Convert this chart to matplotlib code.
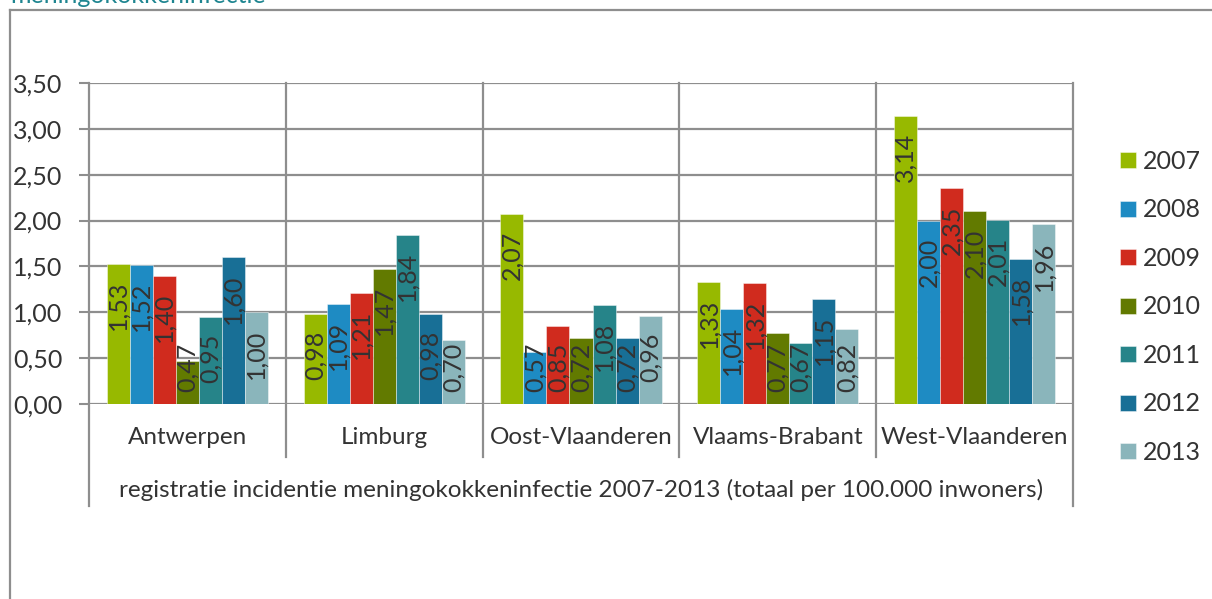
import matplotlib
matplotlib.use("Agg")
import matplotlib.pyplot as plt
from matplotlib.lines import Line2D
import numpy as np

provinces = ["Antwerpen", "Limburg", "Oost-Vlaanderen", "Vlaams-Brabant", "West-Vlaanderen"]
years = ["2007", "2008", "2009", "2010", "2011", "2012", "2013"]
v2007 = [1.53, 0.98, 2.07, 1.33, 3.14]
v2008 = [1.52, 1.09, 0.57, 1.04, 2.00]
v2009 = [1.40, 1.21, 0.85, 1.32, 2.35]
v2010 = [0.47, 1.47, 0.72, 0.77, 2.10]
v2011 = [0.95, 1.84, 1.08, 0.67, 2.01]
v2012 = [1.60, 0.98, 0.72, 1.15, 1.58]
v2013 = [1.00, 0.70, 0.96, 0.82, 1.96]
series = [v2007, v2008, v2009, v2010, v2011, v2012, v2013]
colors = ["#97B900", "#1E8BC3", "#D02B1E", "#627A00", "#268489", "#186F96", "#8AB5BB"]
yticks = [0.0, 0.5, 1.0, 1.5, 2.0, 2.5, 3.0, 3.5]
title = "meningokokkeninfectie"
xlabel = "registratie incidentie meningokokkeninfectie 2007-2013 (totaal per 100.000 inwoners)"

plt.rcParams['font.family'] = ['Lato', 'DejaVu Sans']
TXT = "#333333"
GRID = "#8e8e8e"
FS = 17.5
LFS = 18

W, H = 1212, 599
fig = plt.figure(figsize=(W / 100, H / 100), dpi=100)

x0, x1, ytop, ybot = 89, 1073, 83, 404
ax = fig.add_axes([x0 / W, 1 - ybot / H, (x1 - x0) / W, (ybot - ytop) / H])
ax.set_xlim(0, len(provinces))
ax.set_ylim(0, 3.5)

bw = 0.117
ppu = (ybot - ytop) / 3.5  # pixels per unit
for j, (vals, col, yr) in enumerate(zip(series, colors, years)):
    xs = np.arange(len(provinces)) + 0.5 + (j - 3) * bw
    ax.bar(xs, vals, width=bw, color=col, edgecolor=(1, 1, 1, 0.5), linewidth=0.6,
           label=yr, zorder=3)
    for x, v in zip(xs, vals):
        lab = f"{v:.2f}".replace(".", ",")
        L = 44 / ppu
        top = max(v - 17 / ppu, 17 / ppu + L)
        ax.text(x, top, lab, rotation=90, ha="center", va="top", fontsize=LFS,
                color=TXT, zorder=4)

ax.set_yticks(yticks)
ax.set_yticklabels([f"{t:.2f}".replace(".", ",") for t in yticks], fontsize=LFS, color=TXT)
ax.set_xticks([])
ax.tick_params(axis="y", length=7, width=1.5, color=GRID, pad=12, direction="out")
for t in yticks:
    ax.axhline(t, color=GRID, lw=1.6, zorder=1)
for s in ["left", "right", "top", "bottom"]:
    ax.spines[s].set_visible(False)

# category separators
sep_y = (ybot - 457) / (ybot - ytop)
outer_y = (ybot - 506) / (ybot - ytop)
for i in range(len(provinces) + 1):
    ylow = outer_y if i in (0, len(provinces)) else sep_y
    ax.plot([i, i], [ylow, 1], transform=ax.get_xaxis_transform(), color=GRID, lw=1.6,
            clip_on=False, zorder=2)
for i, p in enumerate(provinces):
    ax.text(i + 0.5, (ybot - 438) / (ybot - ytop), p, transform=ax.get_xaxis_transform(),
            ha="center", va="center", fontsize=FS, color=TXT)
ax.text(len(provinces) / 2, (ybot - 490) / (ybot - ytop), xlabel,
        transform=ax.get_xaxis_transform(), ha="center", va="center", fontsize=FS, color=TXT)

# legend
leg = ax.legend(loc="center left", bbox_to_anchor=(1120 / W, 1 - 307 / H),
                bbox_transform=fig.transFigure, frameon=False, fontsize=LFS,
                handlelength=0.62, handleheight=0.62, handletextpad=0.3, labelspacing=1.02,
                borderpad=0, borderaxespad=0)
for t in leg.get_texts():
    t.set_color(TXT)

# outer frame
fig.add_artist(Line2D([10 / W, 10 / W], [0, 1 - 10 / H], color=GRID, lw=1.6))
fig.add_artist(Line2D([10 / W, 1], [1 - 10 / H, 1 - 10 / H], color=GRID, lw=1.6))

fig.text(10 / W, 1 - 3 / H, title, color="#1E8590", fontsize=18, va="baseline", ha="left")

fig.savefig("out.png", dpi=100)
